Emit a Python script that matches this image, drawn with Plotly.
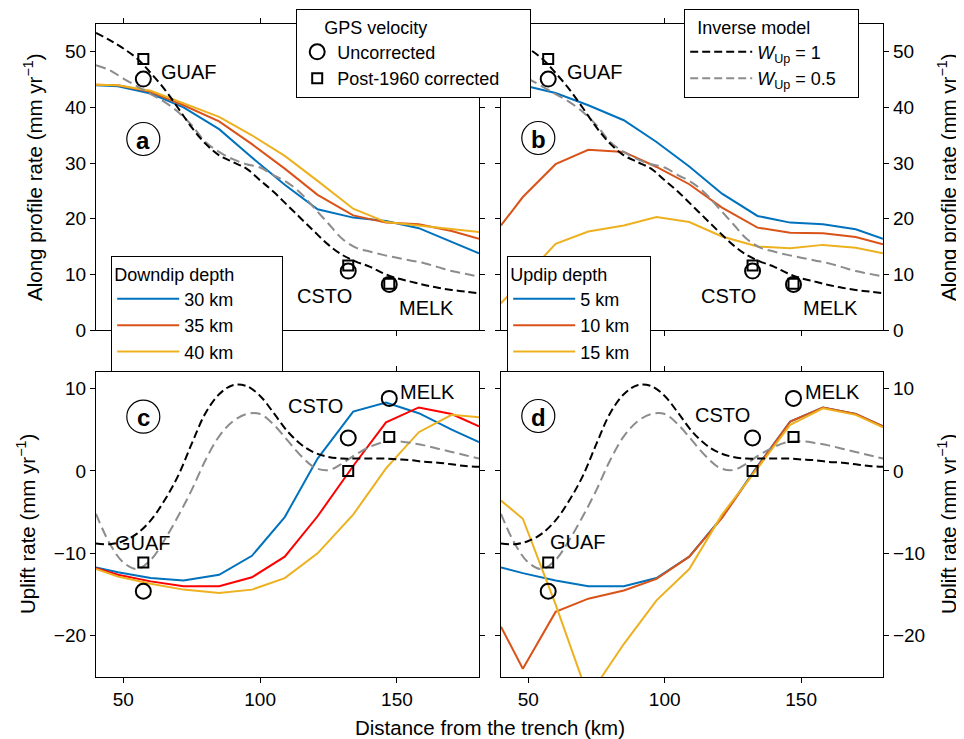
import plotly.graph_objects as go

# ---------------- data ----------------
x_model = [40, 48, 60, 72, 85, 97, 109, 121, 134, 146, 158, 170, 180]

# (a) along-profile rate, downdip depth
along_down30 = [44.0, 43.8, 42.5, 40.0, 36.1, 31.0, 26.1, 21.7, 20.2, 19.6, 18.3, 15.8, 13.8]
along_down35 = [44.1, 44.0, 42.8, 40.4, 37.5, 33.4, 29.0, 24.3, 20.6, 19.3, 19.0, 17.8, 16.4]
along_down40 = [44.1, 44.0, 43.0, 40.8, 38.3, 35.0, 31.3, 26.8, 21.8, 19.4, 18.8, 18.2, 17.6]

# (b) along-profile rate, updip depth
along_up5 = [44.3, 44.0, 42.6, 40.4, 37.7, 33.8, 29.4, 24.5, 20.5, 19.3, 19.0, 18.1, 16.4]
along_up10 = [18.8, 23.9, 29.8, 32.4, 32.0, 29.3, 26.2, 22.0, 18.4, 17.5, 17.4, 16.7, 15.4]
along_up15 = [4.8, 9.1, 15.5, 17.7, 18.8, 20.3, 19.4, 16.8, 15.0, 14.7, 15.3, 14.8, 13.8]

# (c) uplift rate, downdip depth
uplift_down30 = [-11.7, -12.3, -13.0, -13.3, -12.6, -10.3, -5.6, 1.5, 7.2, 8.3, 7.0, 5.0, 3.5]
uplift_down35 = [-11.8, -12.6, -13.4, -14.0, -14.0, -12.9, -10.4, -5.5, 0.6, 5.9, 7.7, 6.9, 5.4]
uplift_down40 = [-11.9, -12.8, -13.7, -14.4, -14.8, -14.4, -13.0, -10.0, -5.3, 0.3, 4.7, 6.8, 6.5]

# (d) uplift rate, updip depth
uplift_up5 = [-11.7, -12.4, -13.3, -14.0, -14.0, -13.0, -10.4, -5.6, 0.6, 6.0, 7.7, 6.9, 5.4]
uplift_up10 = [-18.9, -24.0, -17.1, -15.5, -14.5, -13.1, -10.4, -5.7, 0.5, 6.0, 7.7, 6.9, 5.4]
uplift_up15 = [-3.6, -5.8, -16.2, -27.4, -21.0, -15.7, -11.9, -5.3, 0.3, 5.6, 7.6, 6.8, 5.3]

# inverse model
x_inv = [40, 45, 50, 55, 60, 65, 70, 75, 80, 85, 90, 95, 100, 105, 110, 115, 120,
         125, 130, 135, 140, 145, 150, 155, 160, 165, 170, 175, 180]
along_w1 = [53.4, 52.1, 50.6, 48.8, 46.2, 43.3, 39.9, 36.4, 33.5, 31.4, 30.2, 29.0, 26.9,
            24.8, 22.4, 20.0, 17.6, 15.3, 13.5, 12.3, 11.4, 10.2, 9.3, 8.7, 8.1, 7.6, 7.2, 6.9, 6.6]
along_w05 = [47.6, 46.7, 45.2, 43.8, 42.4, 41.0, 39.2, 36.8, 33.8, 32.0, 30.7, 29.8, 29.2,
             27.8, 26.5, 24.5, 21.8, 19.1, 16.4, 14.8, 14.1, 13.5, 13.0, 12.5, 12.0, 11.3, 10.6, 10.1, 9.6]
uplift_w1 = [-8.8, -8.9, -8.5, -7.6, -6.0, -3.6, -0.6, 3.3, 7.0, 9.3, 10.4, 10.3, 9.1,
             7.0, 4.8, 3.2, 2.2, 1.7, 1.5, 1.5, 1.5, 1.5, 1.4, 1.3, 1.1, 1.0, 0.8, 0.6, 0.5]
uplift_w05 = [-5.2, -8.8, -11.1, -11.9, -10.8, -8.4, -5.5, -2.3, 1.3, 4.2, 6.0, 6.9, 6.9,
              5.6, 3.7, 1.8, 0.4, 0.1, 0.9, 2.0, 2.9, 3.5, 3.6, 3.4, 3.1, 2.7, 2.3, 1.9, 1.5]

# GPS stations
stations = ["GUAF", "CSTO", "MELK"]
gps_x = [57.3, 132.2, 147.2]
along_uncorr = [45.1, 10.6, 8.2]
along_corr = [48.7, 11.6, 8.3]
uplift_uncorr = [-14.6, 4.0, 8.8]
uplift_corr = [-11.1, 0.0, 4.1]

# labels
depth_down_labels = ["30 km", "35 km", "40 km"]
depth_up_labels = ["5 km", "10 km", "15 km"]
inv_labels = ["<i>W</i><sub>Up</sub> = 1", "<i>W</i><sub>Up</sub> = 0.5"]
gps_labels = ["Uncorrected", "Post-1960 corrected"]

# ---------------- styles ----------------
BLUE, ORANGE, YELLOW, RED = "#0072BD", "#D95319", "#EDB120", "#FF0000"
GRAY = "#8c8c8c"
FONT = "Liberation Sans, Arial, sans-serif"
NB = "&nbsp;"

fig = go.Figure()
panels = {
    "a": ("x", "y", [along_down30, along_down35, along_down40], [BLUE, ORANGE, YELLOW],
          depth_down_labels, "legend3", along_w1, along_w05, along_uncorr, along_corr),
    "b": ("x2", "y2", [along_up5, along_up10, along_up15], [BLUE, ORANGE, YELLOW],
          depth_up_labels, "legend4", along_w1, along_w05, along_uncorr, along_corr),
    "c": ("x3", "y3", [uplift_down30, uplift_down35, uplift_down40], [BLUE, RED, YELLOW],
          depth_down_labels, None, uplift_w1, uplift_w05, uplift_uncorr, uplift_corr),
    "d": ("x4", "y4", [uplift_up5, uplift_up10, uplift_up15], [BLUE, ORANGE, YELLOW],
          depth_up_labels, None, uplift_w1, uplift_w05, uplift_uncorr, uplift_corr),
}

for key, (xa, ya, series, cols, labs, leg, w1, w05, unc, cor) in panels.items():
    for s, c, lab in zip(series, cols, labs):
        fig.add_trace(go.Scatter(x=x_model, y=s, mode="lines", xaxis=xa, yaxis=ya,
                                 line=dict(color=c, width=2), name=lab,
                                 legend=leg if leg else "legend3",
                                 showlegend=bool(leg)))
    fig.add_trace(go.Scatter(x=x_inv, y=w05, mode="lines", xaxis=xa, yaxis=ya,
                             line=dict(color=GRAY, width=2, dash="10px,5px", shape="spline"),
                             name=inv_labels[1], legend="legend2", showlegend=False))
    fig.add_trace(go.Scatter(x=x_inv, y=w1, mode="lines", xaxis=xa, yaxis=ya,
                             line=dict(color="black", width=2, dash="8px,4px", shape="spline"),
                             name=inv_labels[0], legend="legend2", showlegend=False))
    fig.add_trace(go.Scatter(x=gps_x, y=unc, mode="markers", xaxis=xa, yaxis=ya,
                             marker=dict(symbol="circle-open", size=15, color="black",
                                         line=dict(width=2, color="black")),
                             name=gps_labels[0], legend="legend", showlegend=(key == "a")))
    fig.add_trace(go.Scatter(x=gps_x, y=cor, mode="markers", xaxis=xa, yaxis=ya,
                             marker=dict(symbol="square-open", size=10, color="black",
                                         line=dict(width=2, color="black")),
                             name=gps_labels[1], legend="legend", showlegend=(key == "a")))

# legend entries for inverse model (order: W=1 first)
fig.add_trace(go.Scatter(x=[None], y=[None], mode="lines", xaxis="x2", yaxis="y2",
                         line=dict(color="black", width=2, dash="8px,4px"),
                         name=inv_labels[0], legend="legend2"))
fig.add_trace(go.Scatter(x=[None], y=[None], mode="lines", xaxis="x2", yaxis="y2",
                         line=dict(color=GRAY, width=2, dash="8px,4px"),
                         name=inv_labels[1], legend="legend2"))

# ---------------- layout ----------------
# The page body has an 8 px margin, so the figure is 8 px smaller and all
# positions below are given in screen pixels of the reference.
OFF = 8
W, H = 964 - OFF, 739 - OFF
X0, X1, Y0, Y1 = 96, 883, OFF, 677          # paper region in screen pixels
ML, MR, MT, MB = X0 - OFF, W - (X1 - OFF), Y0 - OFF, H - (Y1 - OFF)


def px(xp):
    return (xp - X0) / (X1 - X0)


def py(yp):
    return (Y1 - yp) / (Y1 - Y0)


xa_dom = [px(96), px(479)]
xb_dom = [px(501), px(883)]
ytop_dom = [py(330), py(24)]
ybot_dom = [0.0, py(372)]

axis_common = dict(showline=True, linecolor="black", linewidth=1.3, mirror="ticks",
                   ticks="outside", ticklen=5, tickwidth=1.3, tickcolor="black",
                   showgrid=False, zeroline=False,
                   tickfont=dict(family=FONT, size=19, color="black"))
xcommon = dict(axis_common, range=[40, 180], tickvals=[50, 100, 150])
ytop = dict(axis_common, range=[0, 55], tickvals=[0, 10, 20, 30, 40, 50])
ybot = dict(axis_common, range=[-25, 12], tickvals=[-20, -10, 0, 10])

fig.update_layout(
    width=W, height=H, margin=dict(l=ML, r=MR, t=MT, b=MB, autoexpand=False),
    paper_bgcolor="white", plot_bgcolor="white",
    font=dict(family=FONT, size=18, color="black"),
    xaxis=dict(xcommon, domain=xa_dom, anchor="y", showticklabels=False),
    yaxis=dict(ytop, domain=ytop_dom, anchor="x"),
    xaxis2=dict(xcommon, domain=xb_dom, anchor="y2", showticklabels=False),
    yaxis2=dict(ytop, domain=ytop_dom, anchor="x2", side="right"),
    xaxis3=dict(xcommon, domain=xa_dom, anchor="y3"),
    yaxis3=dict(ybot, domain=ybot_dom, anchor="x3"),
    xaxis4=dict(xcommon, domain=xb_dom, anchor="y4"),
    yaxis4=dict(ybot, domain=ybot_dom, anchor="x4", side="right"),
)

leg_font = dict(family=FONT, size=18, color="black")
leg_common = dict(bgcolor="white", bordercolor="black", borderwidth=1.2,
                  xanchor="left", yanchor="top", traceorder="normal", font=leg_font)
fig.update_layout(
    legend=dict(leg_common, x=px(296), y=py(9), itemwidth=30,
                title=dict(text=NB * 5 + "GPS velocity" + NB * 20, side="top", font=leg_font)),
    legend2=dict(leg_common, x=px(684), y=py(9), itemwidth=62,
                 title=dict(text=NB * 2 + "Inverse model" + NB * 9, side="top", font=leg_font)),
    legend3=dict(leg_common, x=px(111), y=py(256), itemwidth=62,
                 title=dict(text="Downdip depth" + NB * 9, side="top", font=leg_font)),
    legend4=dict(leg_common, x=px(507), y=py(256), itemwidth=62,
                 title=dict(text="Updip depth" + NB * 8, side="top", font=leg_font)),
)

ann = []
# station labels: (axis, x, y) left-anchored
station_pos = {
    "x": [(63.0, 46.3), (112.6, 6.1), (149.9, 3.9)],
    "x2": [(63.3, 46.3), (112.6, 6.1), (149.9, 3.9)],
    "x3": [(46.2, -8.7), (109.6, 7.9), (150.4, 9.6)],
    "x4": [(57.3, -8.6), (110.3, 6.8), (150.6, 9.6)],
}
for xa, pts in station_pos.items():
    ya = "y" + xa[1:]
    for name, (sx, sy) in zip(stations, pts):
        ann.append(dict(x=sx, y=sy, xref=xa, yref=ya, text=name, showarrow=False,
                        xanchor="left", yanchor="middle",
                        font=dict(family=FONT, size=20, color="black")))

# axis titles
title_font = dict(family=FONT, size=20.5, color="black")
tcommon = dict(xref="paper", yref="paper", showarrow=False, xanchor="center",
               yanchor="middle", font=title_font)
ann += [
    dict(tcommon, x=px(33), y=py(177), textangle=-90,
         text="Along profile rate (mm yr<sup>−1</sup>)"),
    dict(tcommon, x=px(947), y=py(177), textangle=-90,
         text="Along profile rate (mm yr<sup>−1</sup>)"),
    dict(tcommon, x=px(26), y=py(524), textangle=-90,
         text="Uplift rate (mm yr<sup>−1</sup>)"),
    dict(tcommon, x=px(947), y=py(524), textangle=-90,
         text="Uplift rate (mm yr<sup>−1</sup>)"),
    dict(tcommon, x=px(490), y=py(727), text="Distance from the trench (km)"),
]

# circled panel letters
shapes = []
letters = [("a", 143.3, 139.0), ("b", 538.3, 138.0), ("c", 143.3, 416.7), ("d", 538.3, 416.0)]
R = 16.5
for lt, cx, cy in letters:
    shapes.append(dict(type="circle", xref="paper", yref="paper",
                       x0=px(cx - R), x1=px(cx + R), y0=py(cy + R), y1=py(cy - R),
                       line=dict(color="black", width=1.2), fillcolor="white", layer="above"))
    ann.append(dict(x=px(cx), y=py(cy + 1), xref="paper", yref="paper", showarrow=False,
                    xanchor="center", yanchor="middle",
                    text="<b>" + lt + "</b>", font=dict(family=FONT, size=24, color="black")))

fig.update_layout(annotations=ann, shapes=shapes)
fig.write_html("out.html")
